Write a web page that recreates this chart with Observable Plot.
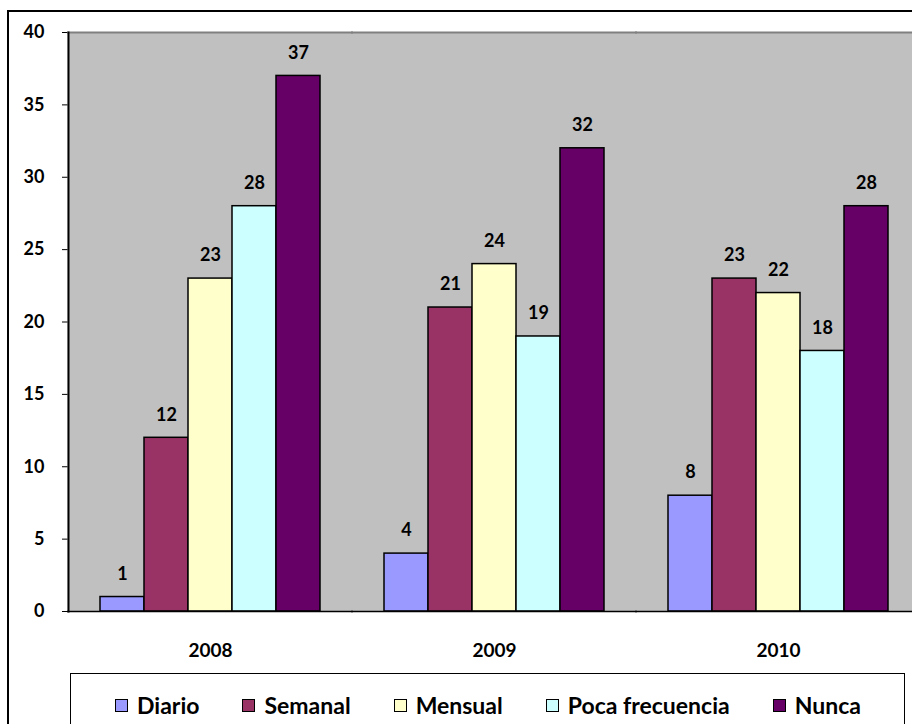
<!DOCTYPE html>
<html>
<head>
<meta charset="utf-8">
<script src="https://cdn.jsdelivr.net/npm/d3@7"></script>
<script src="https://cdn.jsdelivr.net/npm/@observablehq/plot@0.6"></script>
<style>
  html, body { margin: 0; padding: 0; overflow: hidden; width: 912px; height: 724px; background: white; }
  #wrap { position: absolute; left: 0; top: 0; width: 920px; height: 724px; font-family: Lato, "Open Sans", sans-serif; }
  #chart { position: absolute; left: 0; top: 0; }
  #outer { position: absolute; left: 7px; top: 10px; width: 1000px; height: 1000px; border: 2px solid #000; z-index: 3; pointer-events: none; }
  #legend { position: absolute; left: 70px; top: 673px; width: 835px; height: 100px; border: 1.5px solid #000; box-sizing: border-box; }
  #legend .items { position: absolute; left: 44px; top: 17px; display: flex; gap: 43px; align-items: center; }
  #legend .item { display: flex; align-items: center; gap: 9px; font-weight: 700; font-size: 23px; color: #000; white-space: nowrap; }
  #legend .sw { width: 11px; height: 11px; border: 1px solid #000; }
  svg g[aria-label="fx-axis tick label"] { font-size: 19px; }
</style>
</head>
<body>
<div id="wrap">
  <div id="chart"></div>
  <div id="legend"><div class="items"></div></div>
  <div id="outer"></div>
</div>
<script>
const years = ["2008", "2009", "2010"];
const categories = ["Diario", "Semanal", "Mensual", "Poca frecuencia", "Nunca"];
const colors = ["#9999FF", "#993366", "#FFFFCC", "#CCFFFF", "#660066"];
const diario = [1, 4, 8];
const semanal = [12, 21, 23];
const mensual = [23, 24, 22];
const poca = [28, 19, 18];
const nunca = [37, 32, 28];
const yTicks = [0, 5, 10, 15, 20, 25, 30, 35, 40];

const seriesValues = [diario, semanal, mensual, poca, nunca];
const data = [];
years.forEach((yr, i) => {
  categories.forEach((c, j) => {
    data.push({year: yr, cat: c, value: seriesValues[j][i]});
  });
});

const chart = Plot.plot({
  width: 920,
  height: 665,
  marginLeft: 68,
  marginRight: 0,
  marginTop: 32,
  marginBottom: 54,
  style: {fontFamily: "Lato, 'Open Sans', sans-serif", fontSize: "18px", fontWeight: "bold", background: "transparent", maxWidth: "none", overflow: "visible", color: "#000"},
  fx: {domain: years, paddingInner: 0, paddingOuter: 0, label: null, tickSize: 0, tickPadding: 32},
  x: {domain: categories, paddingInner: 0, paddingOuter: 0.727, axis: null},
  y: {domain: [0, 40], ticks: yTicks, tickSize: 6, tickPadding: 18, label: null},
  color: {domain: categories, range: colors},
  marks: [
    Plot.frame({fill: "#C0C0C0", stroke: null, insetLeft: -1, insetRight: -1}),
    Plot.ruleY([40], {stroke: "#808080", strokeWidth: 2, insetLeft: -1, insetRight: -1}),
    Plot.barY(data, {fx: "year", x: "cat", y: "value", fill: "cat", stroke: "#000", strokeWidth: 1.5}),
    Plot.ruleY([0], {stroke: "#000", strokeWidth: 1.5, insetLeft: -1, insetRight: -1}),
    Plot.frame({anchor: "left", facetAnchor: "left", stroke: "#000", strokeWidth: 2}),
    Plot.text(data, {fx: "year", x: "cat", y: "value", text: d => String(d.value), dy: -23, fontSize: 18, fontWeight: "bold", fill: "#000"})
  ]
});
document.getElementById("chart").appendChild(chart);

const items = document.querySelector("#legend .items");
categories.forEach((c, i) => {
  const it = document.createElement("div");
  it.className = "item";
  const sw = document.createElement("div");
  sw.className = "sw";
  sw.style.background = colors[i];
  const tx = document.createElement("span");
  tx.textContent = c;
  it.appendChild(sw);
  it.appendChild(tx);
  items.appendChild(it);
});
</script>
</body>
</html>
